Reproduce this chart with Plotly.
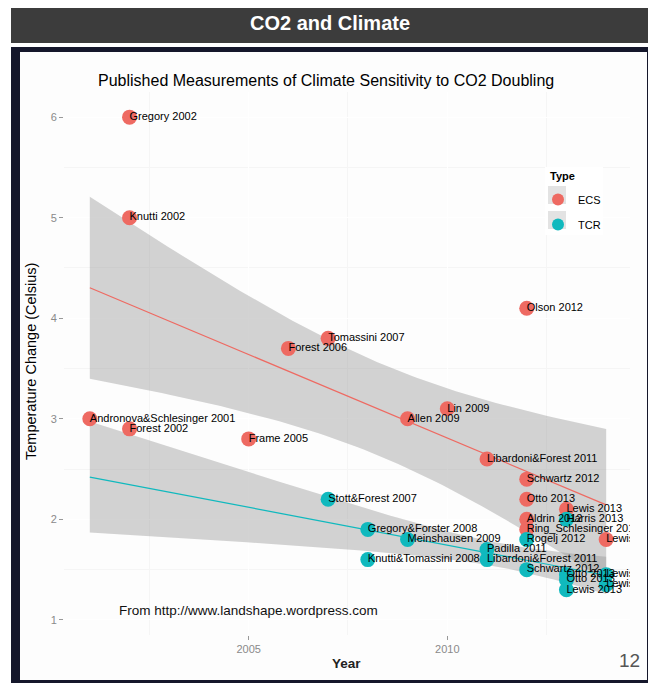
import numpy as np
import plotly.graph_objects as go

# ---------------- data ----------------
ecs_year = [2001, 2002, 2002, 2002, 2005, 2006, 2007, 2009, 2010, 2011,
            2012, 2012, 2012, 2013, 2012, 2012, 2014]
ecs_temp = [3.0, 6.0, 5.0, 2.9, 2.8, 3.7, 3.8, 3.0, 3.1, 2.6,
            2.4, 4.1, 2.2, 2.1, 2.0, 1.9, 1.8]
ecs_label = ["Andronova&Schlesinger 2001", "Gregory 2002", "Knutti 2002", "Forest 2002",
             "Frame 2005", "Forest 2006", "Tomassini 2007", "Allen 2009", "Lin 2009",
             "Libardoni&Forest 2011", "Schwartz 2012", "Olson 2012", "Otto 2013",
             "Lewis 2013", "Aldrin 2012", "Ring_Schlesinger 2012", "Lewis 2014"]

tcr_year = [2007, 2008, 2008, 2009, 2011, 2011, 2012, 2012, 2013, 2013, 2013, 2013, 2014, 2014]
tcr_temp = [2.2, 1.9, 1.6, 1.8, 1.7, 1.6, 1.8, 1.5, 2.0, 1.45, 1.4, 1.3, 1.45, 1.35]
tcr_label = ["Stott&Forest 2007", "Gregory&Forster 2008", "Knutti&Tomassini 2008",
             "Meinshausen 2009", "Padilla 2011", "Libardoni&Forest 2011", "Rogelj 2012",
             "Schwartz 2012", "Harris 2013", "Otto 2013", "Otto 2013", "Lewis 2013",
             "Lewis&Curry 2014", "Lewis 2014"]

x_ticks = [2005, 2010]
y_ticks = [1, 2, 3, 4, 5, 6]

ECS_COL = "#EE6A62"
TCR_COL = "#10B9BE"
FONT = "Liberation Sans"

# ---------------- helpers ----------------
def t_quant(df):
    z = 1.959964
    return (z + (z**3 + z) / (4 * df) + (5 * z**5 + 16 * z**3 + 3 * z) / (96 * df**2)
            + (3 * z**7 + 19 * z**5 + 17 * z**3 - 15 * z) / (384 * df**3))

def lm_band(xs, ys, grid):
    x = np.asarray(xs, float); y = np.asarray(ys, float)
    n = len(x)
    b, a = np.polyfit(x, y, 1)
    res = y - (a + b * x)
    s = np.sqrt(np.sum(res**2) / (n - 2))
    sxx = np.sum((x - x.mean())**2)
    fit = a + b * grid
    se = s * np.sqrt(1.0 / n + (grid - x.mean())**2 / sxx)
    t = t_quant(n - 2)
    return fit, fit - t * se, fit + t * se

all_years = ecs_year + tcr_year
grid = np.linspace(min(all_years), max(all_years), 80)

# geometry in window pixels (page body has an 8px margin)
OFF = 8
WIN_W, WIN_H = 656, 683
L, R, T, B = 64, 630, 92, 635
W, H = WIN_W - OFF, WIN_H - OFF
def px(xp): return (xp - L) / (R - L)
def py(yp): return (B - yp) / (B - T)

fig = go.Figure()

for xs, ys, col in [(ecs_year, ecs_temp, ECS_COL), (tcr_year, tcr_temp, TCR_COL)]:
    fit, lo, hi = lm_band(xs, ys, grid)
    fig.add_trace(go.Scatter(x=np.concatenate([grid, grid[::-1]]),
                             y=np.concatenate([hi, lo[::-1]]),
                             fill="toself", fillcolor="rgba(150,150,150,0.42)",
                             line=dict(width=0), mode="lines", hoverinfo="skip",
                             showlegend=False))
    fig.add_trace(go.Scatter(x=grid, y=fit, mode="lines",
                             line=dict(color=col, width=1.2), showlegend=False,
                             hoverinfo="skip"))

fig.add_trace(go.Scatter(x=ecs_year, y=ecs_temp, mode="markers", name="ECS",
                         legendgroup="ecs", marker=dict(color=ECS_COL, size=15)))
fig.add_trace(go.Scatter(x=tcr_year, y=tcr_temp, mode="markers", name="TCR",
                         legendgroup="tcr", marker=dict(color=TCR_COL, size=15)))

fig.add_trace(go.Scatter(x=ecs_year + tcr_year, y=ecs_temp + tcr_temp,
                         text=ecs_label + tcr_label, mode="text",
                         textposition="middle right",
                         textfont=dict(size=11, color="black", family=FONT),
                         showlegend=False, hoverinfo="skip"))

shapes = [
    dict(type="rect", xref="paper", yref="paper", x0=px(11), x1=px(665), y0=py(47), y1=py(700),
         fillcolor="#15172b", line=dict(width=0), layer="below"),
    dict(type="rect", xref="paper", yref="paper", x0=px(20), x1=px(647), y0=py(52), y1=py(680),
         fillcolor="#fdfdfd", line=dict(width=0), layer="below"),
    dict(type="rect", xref="paper", yref="paper", x0=px(11), x1=px(648), y0=py(0), y1=py(43),
         fillcolor="#3c3c3c", line=dict(width=0), layer="below"),
    dict(type="rect", xref="paper", yref="paper", x0=px(545), x1=px(603), y0=py(167), y1=py(235),
         fillcolor="white", line=dict(width=0), layer="above"),
    dict(type="rect", xref="paper", yref="paper", x0=px(548), x1=px(566), y0=py(186), y1=py(204),
         fillcolor="#e3e3e3", line=dict(width=0), layer="above"),
    dict(type="rect", xref="paper", yref="paper", x0=px(548), x1=px(566), y0=py(211), y1=py(229),
         fillcolor="#e3e3e3", line=dict(width=0), layer="above"),
]

def ann(text, xp, yp, size, color="black", xanchor="center", **kw):
    return dict(text=text, x=px(xp), y=py(yp), xref="paper", yref="paper",
                xanchor=xanchor, yanchor="middle", showarrow=False,
                font=dict(size=size, color=color, family=FONT), **kw)

annotations = [
    ann("<b>CO2 and Climate</b>", 330, 23, 20, "white"),
    ann("Published Measurements of Climate Sensitivity to CO2 Doubling", 326, 81, 16),
    ann("Temperature Change (Celsius)", 31, 362, 14.5, textangle=-90),
    ann("<b>Year</b>", 346, 663, 13.5, "#222"),
    ann("From http://www.landshape.wordpress.com", 117, 610, 13.5, "#111", xanchor="left"),
    ann("12", 629, 660, 19, "#555"),
    ann("<b>Type</b>", 548, 176, 11, xanchor="left"),
]

fig.update_layout(
    width=W, height=H,
    margin=dict(l=L - OFF, r=WIN_W - R, t=T - OFF, b=WIN_H - B),
    paper_bgcolor="white", plot_bgcolor="#EBEBEB",
    font=dict(family=FONT),
    shapes=shapes, annotations=annotations,
    legend=dict(x=px(538), y=py(185), xanchor="left", yanchor="top",
                bgcolor="rgba(0,0,0,0)", font=dict(size=11, color="black"),
                itemsizing="constant", tracegroupgap=6, itemwidth=30),
    showlegend=True,
)
fig.update_xaxes(range=[2000.35, 2014.6], tickvals=x_ticks, ticktext=[str(v) for v in x_ticks],
                 showgrid=True, gridcolor="white", gridwidth=1.2, zeroline=False,
                 ticks="outside", ticklen=4, tickcolor="#999",
                 tickfont=dict(size=11, color="#8a8a8a"),
                 minor=dict(tick0=2000, dtick=2.5, showgrid=True, gridcolor="#F5F5F5",
                            gridwidth=0.6))
fig.update_yaxes(range=[0.85, 6.25], tickvals=y_ticks, ticktext=[str(v) for v in y_ticks],
                 showgrid=True, gridcolor="white", gridwidth=1.2, zeroline=False,
                 ticks="outside", ticklen=4, tickcolor="#999",
                 tickfont=dict(size=11, color="#8a8a8a"),
                 minor=dict(tick0=0.5, dtick=1, showgrid=True, gridcolor="#F5F5F5",
                            gridwidth=0.6))

fig.write_html("out.html")
